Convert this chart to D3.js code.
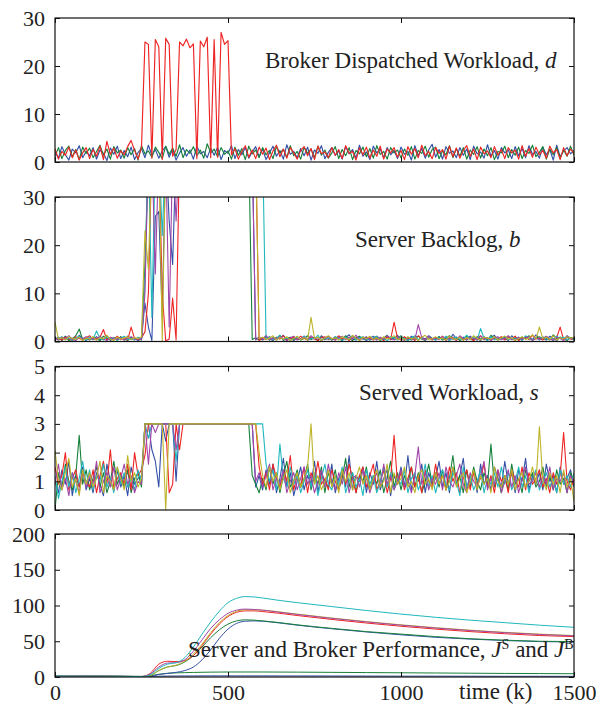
<!DOCTYPE html>
<html><head><meta charset="utf-8">
<script src="https://cdn.jsdelivr.net/npm/d3@7"></script>
<style>
html,body{margin:0;padding:0;background:#fff;}
svg{display:block;}
text{font-family:"Liberation Serif","Times New Roman",serif;fill:#222;}
</style></head>
<body><svg id="chart" width="599" height="704"></svg>
<script>
// ---------- DATA ----------
const kStep = d3.range(0, 1501, 10); // sample times k = 0,10,...,1500
const xTicks = [0, 500, 1000, 1500];
const yTicksD = [0, 10, 20, 30];
const yTicksB = [0, 10, 20, 30];
const yTicksS = [0, 1, 2, 3, 4, 5];
const yTicksJ = [0, 50, 100, 150, 200];

// Panel 1: broker dispatched workload d
const dBlue = [2.1,0.8,3.2,1.5,0.4,2.7,1.9,3.4,0.9,2.2, 1.3,3.0,0.6,2.5,1.8,0.3,2.9,1.6,3.3,0.7,
 2.4,1.1,3.1,0.5,2.0,2.8,0.9,3.5,1.4,2.6, 0.8,2.3,3.2,1.0,2.7,0.4,1.9,3.0,1.2,2.5,
 0.6,3.3,1.7,2.2,0.9,2.9,1.4,3.1,0.5,2.4, 1.8,3.4,0.7,2.6,1.5,3.0,0.8,2.1,3.2,1.1,
 2.7,0.5,1.9,3.3,1.2,2.4,0.6,3.6,1.6,2.2, 0.9,2.8,1.3,3.1,0.4,2.5,1.8,3.4,0.7,2.0,
 3.0,1.4,2.3,0.6,3.2,1.7,2.6,0.8,3.5,1.2, 2.1,0.5,3.3,1.9,2.7,0.9,3.0,1.5,2.4,0.7,
 3.1,1.6,2.2,0.4,3.4,1.3,2.8,0.8,2.5,3.7, 1.0,2.6,0.6,3.2,1.8,2.3,0.9,3.0,1.4,2.7,
 0.5,3.3,1.7,2.1,0.8,3.6,1.2,2.4,0.6,3.0, 1.9,2.5,0.7,3.2,1.3,2.8,0.9,3.4,1.6,2.2,
 0.8,3.1,1.5,2.6,0.4,3.5,1.1,2.3,3.0,1.7, 2.4];
const dGreen = [1.2,3.0,0.7,2.4,3.3,1.1,2.6,0.5,3.1,1.8, 2.9,0.9,2.2,3.5,1.4,2.7,0.6,3.2,1.9,2.5,
 0.8,3.0,1.5,2.8,0.4,3.4,1.7,2.3,1.0,3.1, 2.0,0.7,3.3,1.6,2.9,1.2,3.6,0.9,2.6,1.8,
 3.2,1.3,2.5,0.8,3.8,1.9,2.7,1.1,3.0,1.6, 2.3,0.6,3.1,1.4,2.8,0.5,3.3,1.7,2.5,0.9,
 3.0,1.5,2.4,0.7,3.2,1.9,2.6,1.0,3.4,1.3, 2.2,0.6,3.1,1.8,2.7,0.9,3.3,1.4,2.5,0.8,
 1.9,3.2,0.7,2.6,1.3,3.0,0.5,2.4,1.7,3.1, 1.1,2.8,0.8,3.4,1.6,2.2,0.6,3.0,1.9,2.5,
 0.9,2.7,1.4,3.2,0.6,2.4,1.8,3.3,1.0,2.6, 3.1,0.7,2.3,1.5,3.4,0.9,2.8,1.2,3.0,0.6,
 2.5,1.6,3.2,0.8,2.7,1.3,3.0,0.5,2.2,1.9, 3.3,0.9,2.6,1.4,3.1,0.7,2.4,1.8,3.5,1.1,
 2.0,3.2,0.6,2.7,1.5,3.0,0.9,2.5,1.2,3.3, 1.4];
const dRed = [2.8,0.6,2.2,1.4,3.1,0.9,2.5,0.4,1.9,3.0, 0.7,2.6,1.2,3.3,0.5,4.3,1.6,2.9,0.8,2.3,
 1.5,3.2,4.5,2.4,0.6, 3.0,25.0,24.5,0.8,25.5,
 24.0,0.5,25.8,24.5,1.2,2.6,25.0,24.2,25.6,23.8, 24.6,0.7,25.2,24.0,26.0,0.9,25.5,1.0,27.0,24.5,
 25.3,1.5,2.8,0.6,2.2,3.4,1.0,2.5,0.7,3.1,
 1.6,2.9,0.5,2.3,3.5,1.1,2.7,0.8,3.0,1.9, 0.6,2.4,3.2,1.3,2.8,0.5,3.3,1.7,2.1,0.9,
 3.0,1.4,2.6,0.7,3.4,1.8,2.2,0.4,2.9,1.5, 3.1,0.8,2.5,1.2,3.3,0.6,2.7,1.9,3.0,1.0,
 2.4,0.5,3.2,1.6,2.8,0.9,3.5,1.3,2.2,0.7, 3.0,1.8,2.6,0.6,3.3,1.1,2.9,0.8,2.4,3.4,
 1.2,2.7,0.5,3.1,1.7,2.3,0.9,3.2,1.4,2.6, 0.7,3.0,1.9,2.5,0.6,3.4,1.2,2.8,1.0,3.1,
 1.5,2.4,0.8,3.3,1.9,2.6,0.5,3.0,1.3,2.7, 1.8];

// Panel 2: server backlog b
const bBlue = [0.5,0.9,0.2,1.1,0.4,0.7,0.3,1.3,0.6,0.2, 0.8,0.4,1.0,0.3,0.6,1.2,0.2,0.7,0.5,0.9, 0.3,1.1,0.4,0.6,0.2,
 0.5,8,3,0.2,26,27,5,40,25,16,40,40,
 40,40,40,40,40,40,40,40,40,40,40,40,40,40,40,40,40,40,40,40,
 40,0.5,0.8,
 0.3,1.0,0.5,0.2,0.9,0.6,1.3,0.4,0.7,0.2, 0.8,0.5,1.1,0.3,0.6,0.9,0.2,1.2,0.4,0.7,
 0.3,1.0,0.6,0.2,0.8,1.4,0.5,0.3,0.9,0.6, 0.2,0.7,1.1,0.4,0.8,0.3,1.0,0.5,0.6,1.3,
 0.4,0.8,0.2,1.1,0.6,0.3,0.9,0.5,1.2,0.7, 0.3,1.0,0.5,0.8,0.2,1.5,0.6,0.4,0.9,0.3,
 1.1,0.5,0.7,0.2,1.0,0.4,0.8,1.3,0.3,0.6, 0.9,0.2,1.2,0.5,0.7,0.3,1.0,0.6,0.4,1.4,
 0.5,0.8,0.3,1.1,0.6,0.2,0.9,0.4,1.2,0.7, 0.5];
const bGreen = [0.8,0.3,0.6,1.0,0.2,0.5,1.2,2.6,0.4,0.7, 0.3,0.9,0.5,0.2,1.1,0.6,0.4,0.8,0.3,1.0, 0.5,0.2,0.9,0.4,0.7,
 0.3,16,40,40,40,40,40,40,40,40,40,40,
 40,40,40,40,40,40,40,40,40,40,40,40,40,40,40,40,40,40,40,40,
 0.4,0.8,0.3,
 0.6,1.1,0.3,0.8,0.5,1.3,0.2,0.7,0.9,0.4, 1.0,0.3,0.6,1.2,0.4,0.8,0.2,0.9,0.5,1.1,
 0.3,0.7,1.0,0.4,1.2,0.6,0.2,0.8,1.1,0.5, 0.9,0.3,0.6,1.0,0.2,0.7,1.3,0.4,0.8,0.5,
 1.2,0.4,0.7,0.3,0.9,1.1,0.5,0.2,0.8,0.6, 0.4,1.0,0.3,0.7,1.2,0.5,0.9,0.2,0.6,1.1,
 0.7,0.3,1.0,0.5,0.8,0.2,1.3,0.6,0.4,0.9, 0.5,1.1,0.4,0.8,0.3,0.9,0.6,1.2,0.2,0.7,
 1.0,0.4,0.7,0.3,1.4,0.6,0.9,0.5,0.2,0.8, 0.6];
const bRed = [0.4,0.7,0.3,0.9,0.5,0.2,1.0,0.6,0.3,0.8, 1.2,0.4,0.6,0.9,2.5,0.3,0.7,0.5,1.1,0.4, 0.8,0.3,3.0,0.6,0.4,
 0.8,2,10,40,40,40,10,0.1,0.5,9,0.3,40,
 40,40,40,40,40,40,40,40,40,40,40,40,40,40,40,40,40,40,40,40,
 40,40,0.2,
 0.7,0.4,1.0,0.3,0.8,0.5,1.2,0.2,0.6,0.9, 0.4,1.1,0.6,0.3,0.9,0.5,0.2,0.8,1.0,0.4,
 0.7,0.3,1.2,0.5,0.8,0.2,1.0,0.6,0.4,0.9, 0.5,0.8,0.3,1.1,0.6,0.2,0.9,0.4,4.0,0.7,
 0.3,1.0,0.5,0.7,0.2,1.2,0.6,0.4,0.9,0.3, 0.8,0.5,1.1,0.3,0.6,0.9,0.2,1.0,0.4,0.7,
 0.5,0.2,0.8,1.2,0.4,0.7,0.3,0.9,0.6,1.0, 0.3,0.8,0.5,1.1,0.2,0.6,0.9,0.4,1.3,0.5,
 0.7,0.3,1.0,0.6,0.2,0.8,3.0,0.4,0.9,0.5, 0.4];
const bCyan = [0.3,0.6,1.0,0.4,0.8,0.2,0.7,1.1,0.5,0.3, 0.9,0.4,2.2,0.6,0.3,1.0,0.5,0.8,0.2,0.7, 1.1,0.4,0.6,0.3,0.9,
 0.5,12,40,5,40,40,22,40,40,40,40,40,
 40,40,40,40,40,40,40,40,40,40,40,40,40,40,40,40,40,40,40,40,
 40,40,40,
 40,0.5,1.0,0.3,0.7,1.2,0.4,0.8,0.2,0.6, 0.9,0.4,1.1,0.3,0.7,0.5,1.3,0.2,0.8,0.6,
 0.4,1.0,0.6,0.2,0.9,0.5,1.2,0.3,0.7,1.0, 0.5,0.3,0.8,1.1,0.4,0.6,0.2,1.0,0.7,0.3,
 0.9,0.5,0.2,0.8,1.2,0.4,0.7,0.3,1.0,0.6, 0.3,0.8,0.5,1.1,0.2,0.7,0.9,0.4,0.6,1.3,
 0.5,0.9,0.3,2.7,0.6,0.2,1.0,0.4,0.8,0.5, 1.1,0.3,0.7,0.5,0.9,0.2,1.2,0.6,0.4,0.8,
 0.3,1.0,0.5,0.7,0.2,1.1,0.6,0.9,0.4,0.7, 0.3];
const bMagenta = [0.6,0.3,0.9,0.5,1.2,0.4,0.2,0.8,0.6,1.0, 0.4,0.7,0.3,1.1,0.5,0.2,0.9,0.6,0.4,0.8, 0.3,0.7,1.0,0.5,0.6,
 0.4,10,40,40,14,40,40,40,3,40,25,40,
 40,40,40,40,40,40,40,40,40,40,40,40,40,40,40,40,40,40,40,40,
 40,0.3,0.9,
 0.5,1.2,0.4,0.7,0.3,1.0,0.6,0.2,0.8,1.1, 0.3,0.6,0.9,0.4,1.2,0.5,0.8,0.2,0.7,1.0,
 0.6,0.3,0.8,1.1,0.4,0.9,0.5,1.3,0.2,0.7, 1.0,0.4,0.6,0.3,0.9,0.5,1.2,0.7,0.3,0.8,
 0.5,0.2,0.9,0.6,0.4,3.5,0.8,0.3,1.1,0.5, 0.7,0.4,1.0,0.2,0.8,0.5,0.3,1.2,0.6,0.4,
 0.9,0.6,0.3,1.1,0.5,0.8,0.2,0.7,1.0,0.4, 0.6,1.2,0.4,0.3,0.9,0.5,0.7,1.0,0.2,0.8,
 0.4,0.7,1.1,0.5,0.3,0.9,0.6,0.2,1.0,0.6, 0.8];
const bOlive = [4.0,0.5,0.8,0.3,1.0,0.6,0.4,0.9,0.2,0.7, 0.5,1.0,0.3,0.8,0.6,1.3,0.4,0.2,0.9,0.5, 0.7,1.0,0.4,0.8,0.6,
 1.0,23,15,40,40,40,0.2,40,40,40,40,40,
 40,40,40,40,40,40,40,40,40,40,40,40,40,40,40,40,40,40,40,40,
 40,40,0.6,
 0.9,0.4,0.7,1.2,0.3,0.8,0.5,1.0,0.2,0.6, 1.1,0.4,0.8,0.3,5.0,0.6,0.9,0.2,0.7,1.2,
 0.5,0.8,0.3,1.0,0.6,0.4,1.3,0.7,0.2,0.9, 0.6,1.1,0.4,0.7,0.3,1.0,0.5,0.8,1.2,0.4,
 0.7,0.3,1.0,0.5,0.8,0.2,0.9,1.3,0.4,0.6, 1.0,0.5,0.7,0.3,1.1,0.6,0.4,0.9,0.2,0.8,
 0.4,1.2,0.6,0.3,0.9,0.7,0.5,1.0,0.3,0.8, 1.1,0.5,0.8,0.2,0.6,1.0,0.4,0.7,1.4,0.5,
 3.0,0.6,0.9,0.4,1.2,0.3,0.8,0.5,1.0,0.7, 0.9];

// Panel 3: served workload s
const sBlue = [1.0,0.6,1.4,0.9,1.7,0.5,1.2,0.8,1.5,0.7, 1.1,0.6,1.3,0.9,0.5,1.6,1.0,0.7,1.4,0.8, 1.2,0.5,1.5,0.9,1.1,
 1.2,3,3,2.1,1.7,0.8,3,2.4,3,3,1.0,3,
 3,3,3,3,3,3,3,3,3,3,3,3,3,3,3,3,3,3,3,3,
 3,0.8,1.2,
 0.7,1.4,0.9,1.6,0.6,1.1,1.8,0.8,1.3,0.5, 1.0,1.5,0.7,1.2,0.9,1.7,0.6,1.3,1.0,0.8,
 1.6,0.6,1.1,1.4,0.8,1.9,0.7,1.2,1.0,1.5, 0.6,1.3,0.9,1.7,0.7,1.1,1.4,0.5,1.2,0.9,
 1.5,0.8,1.9,0.7,1.2,1.0,1.6,0.6,1.3,0.9, 1.1,1.7,0.8,1.3,0.6,1.5,0.9,1.2,1.8,0.7,
 1.0,1.4,0.6,1.6,0.9,1.2,0.7,1.5,1.1,0.8, 1.7,0.9,1.3,0.6,1.4,1.0,1.8,0.7,1.2,0.9,
 1.3,0.7,1.6,1.0,1.2,0.6,1.5,0.9,1.1,1.4, 0.8];
const sGreen = [0.0,1.3,0.8,1.6,1.0,0.7,1.2,2.6,0.9,1.4, 0.7,1.1,1.5,0.8,1.3,0.6,1.0,1.7,0.9,1.2, 0.8,1.4,0.6,1.1,1.3,
 0.8,3,3,3,3,3,3,3,3,3,3,3,
 3,3,3,3,3,3,3,3,3,3,3,3,3,3,3,3,3,3,3,3,
 1.2,0.9,0.6,
 1.1,0.7,1.5,0.9,1.3,0.6,1.2,1.7,0.8,1.0, 1.4,0.8,1.1,1.6,0.7,1.2,0.9,1.5,0.6,1.3,
 0.9,1.4,0.7,1.1,1.8,0.8,1.3,0.6,1.2,1.0, 1.5,0.7,1.2,0.9,1.4,0.6,1.1,1.7,0.8,1.3,
 0.7,1.2,0.9,1.5,0.8,1.3,0.6,1.0,1.6,0.9, 1.3,0.8,1.4,0.7,1.1,1.9,0.9,1.2,0.6,1.4,
 0.8,1.5,1.0,0.7,1.3,0.9,2.3,0.8,1.1,0.6, 1.2,0.7,1.6,0.9,1.1,0.6,1.4,1.0,1.3,0.8,
 1.0,1.5,0.8,1.2,0.7,1.4,0.9,1.1,0.6,1.3, 1.0];
const sRed = [1.5,0.9,1.2,2.0,0.7,1.1,1.4,0.8,1.3,1.0, 0.8,1.4,0.6,1.2,1.7,0.9,2.1,0.7,1.1,1.3, 0.9,1.6,0.7,2.0,1.2,
 1.4,1.9,3,3,3,3,3,3,0.6,0.9,3,2.1,
 3,3,3,3,3,3,3,3,3,3,3,3,3,3,3,3,3,3,3,3,
 3,3,1.5,
 0.9,1.3,0.7,1.6,1.1,0.8,1.4,1.0,1.9,0.7, 1.2,0.8,1.5,0.6,1.3,1.0,1.7,0.9,1.1,0.7,
 1.4,1.0,0.7,1.3,0.9,1.6,1.1,0.6,1.2,1.5, 0.8,1.2,1.6,0.7,1.0,1.4,0.6,1.1,2.6,0.9,
 1.3,0.7,1.1,1.5,0.8,1.2,0.6,1.4,1.0,0.8, 1.6,0.9,1.2,0.7,1.5,1.0,1.3,0.6,1.1,1.4,
 0.7,1.3,0.9,1.1,1.6,0.8,1.2,0.6,1.4,1.0, 1.2,0.6,1.4,1.0,0.8,1.5,0.7,1.3,0.9,1.1,
 1.4,0.8,1.1,0.6,1.3,0.9,1.2,2.7,1.0,0.7, 1.1];
const sCyan = [1.2,0.4,1.0,1.5,0.8,1.3,0.6,1.1,1.7,0.9, 1.4,0.7,1.2,1.0,1.6,0.8,1.1,0.6,1.5,0.9, 1.3,0.8,1.1,0.7,1.4,
 1.0,3,2.5,3,3,3,3,3,3,3,1.7,3,
 3,3,3,3,3,3,3,3,3,3,3,3,3,3,3,3,3,3,3,3,
 3,3,3,
 3,1.6,1.0,1.4,0.7,2.3,1.1,0.8,1.5,0.9, 1.2,0.6,1.0,1.4,0.8,1.3,0.5,1.1,1.6,0.9,
 0.7,1.2,0.9,1.5,0.6,1.0,1.3,0.8,1.1,0.5, 1.4,0.9,1.2,0.6,1.0,1.5,0.8,1.3,0.7,1.1,
 0.9,1.4,0.6,1.1,1.3,0.7,1.0,1.6,0.8,1.2, 0.6,1.1,1.4,0.9,0.7,1.3,1.0,0.5,1.5,0.8,
 1.2,0.7,1.0,1.4,0.6,1.1,0.9,1.3,0.8,1.5, 0.9,1.3,0.7,1.0,1.5,0.8,1.2,0.6,1.1,1.4,
 0.7,1.0,1.3,0.8,1.1,0.6,1.4,0.9,1.2,0.8, 1.3];
const sMagenta = [0.9,1.6,0.7,1.1,0.5,1.3,1.0,0.6,1.4,0.8, 1.2,0.9,1.7,0.6,1.0,1.3,0.8,1.5,0.7,1.1, 1.6,0.9,1.2,0.6,1.0,
 0.9,3,1.6,3,2.7,3,3,3,3,3,2.1,3,
 3,3,3,3,3,3,3,3,3,3,3,3,3,3,3,3,3,3,3,3,
 3,1.0,1.3,
 0.8,1.2,1.6,0.7,1.1,0.9,1.4,0.6,1.0,1.3, 0.7,1.1,1.5,0.9,1.2,0.6,1.0,1.4,0.8,1.6,
 1.0,0.7,1.3,0.9,1.5,0.6,1.1,1.2,0.8,1.4, 1.1,0.6,1.0,1.3,0.8,1.6,0.9,1.2,0.7,1.0,
 1.4,0.8,1.1,0.6,1.2,2.2,0.9,1.3,0.7,1.1, 0.9,1.3,0.7,1.5,1.0,0.8,1.2,1.6,0.9,0.6,
 1.3,1.0,0.8,1.2,1.7,0.7,1.1,0.9,1.4,0.6, 1.0,1.4,0.8,1.2,0.6,1.1,1.5,0.9,1.0,1.3,
 0.8,1.2,0.9,1.5,0.7,1.1,1.0,1.3,0.6,1.2, 0.9];
const sOlive = [2.1,1.0,0.7,1.3,1.8,0.8,1.1,0.5,1.4,0.9, 1.3,0.8,1.1,1.7,0.6,1.2,1.0,0.7,1.5,1.1, 0.7,1.9,1.0,1.3,0.8,
 1.1,3,3,3,3,3,3,0,3,3,3,3,
 3,3,3,3,3,3,3,3,3,3,3,3,3,3,3,3,3,3,3,3,
 3,3,2.0,
 1.2,0.8,1.5,1.0,1.3,0.7,1.1,1.4,0.6,1.0, 1.3,0.8,1.1,1.5,3.0,0.9,1.2,0.7,1.0,1.4,
 0.8,1.2,0.6,1.4,1.0,1.3,0.7,1.1,1.5,0.9, 1.2,0.7,1.1,1.4,0.8,1.0,1.6,0.6,1.3,0.9,
 1.1,1.5,0.8,1.0,0.6,1.2,1.4,0.9,1.1,0.7, 1.3,0.9,1.2,0.7,1.0,1.5,0.8,1.1,1.3,0.6,
 1.0,1.4,0.7,1.2,0.9,1.1,0.6,1.5,1.0,0.8, 1.2,0.9,1.4,0.7,1.1,1.3,0.8,1.0,1.5,0.9,
 2.9,1.0,0.7,1.3,0.9,1.2,0.6,1.4,0.8,1.1, 0.3];

// Panel 4: server and broker performance J
const jK = [0,50,100,150,200,250,275,300,325,350,375,400,425,450,475,500,525,550,575,600,650,700,800,900,1000,1100,1200,1300,1400,1500];
const jBlueLow  = [1.2,1.1,1.0,0.9,0.8,0.7,0.8,1.1,1.3,1.4,1.5,1.5,1.6,1.6,1.6,1.6,1.6,1.6,1.6,1.6,1.5,1.5,1.4,1.3,1.2,1.2,1.1,1.0,1.0,0.9];
const jGreenLow = [1.6,1.4,1.3,1.2,1.1,0.9,1.8,3.8,5.2,5.8,6.1,6.4,6.6,6.8,6.9,7.0,7.0,7.0,7.0,7.0,6.9,6.8,6.5,6.2,5.9,5.6,5.3,5.0,4.8,4.6];
const jBlue     = [1.5,1.3,1.1,1.0,0.8,0.6,1.0,3.5,5.0,6.5,9,14,24,38,54,67,75,78,78.5,78,75.5,72.5,67.5,63,59,55.5,53,51,49.5,49];
const jGreen    = [1.5,1.3,1.1,1.0,0.8,0.6,2,9,14,16,21,30,42,55,66,74,78.5,80,79.5,78.5,76,73,68,63.5,60,56.5,53.5,51.5,50,49.5];
const jRed      = [1.5,1.3,1.1,1.0,0.8,0.6,5,18,22,21.5,23,30,44,60,74,84.5,90.5,92.5,92.5,91.5,89,86,80.5,75.5,71,67,63.5,60.5,58,56.5];
const jOlive    = [1.5,1.3,1.1,1.0,0.8,0.6,2,9,14,16.5,22,32,46,62,76,86,92,94,94,93.5,91,88,82.5,77.5,73,69,65.5,62.5,60,58];
const jMagenta  = [1.5,1.3,1.1,1.0,0.8,0.6,4,14,19.5,20,24,36,52,68,80,89,93.5,95,94.5,93.5,90.5,87.5,82,77,72.5,68.5,65,62,59.5,57.5];
const jCyan     = [1.5,1.3,1.1,1.0,0.8,0.6,3,12,18,20,27,42,60,77,92,104,110,112.5,112,110.5,107,104,98.5,93,88,83.5,79.5,76,72.5,69.5];

// ---------- STYLE ----------
const C = {blue:"#3350a6", green:"#17803b", red:"#ee2424", cyan:"#21b8bd", magenta:"#a245a8", olive:"#bdb42a"};

const svg = d3.select("#chart");
const x = d3.scaleLinear().domain([0,1500]).range([55,574]);

const panels = [
  {id:"d", top:18, bottom:162, dom:[0,30], ticks:yTicksD, sw:1.15,
   series:[{c:C.blue,v:dBlue},{c:C.green,v:dGreen},{c:C.red,v:dRed}], kx:kStep, curve:d3.curveLinear},
  {id:"b", top:197, bottom:341.5, dom:[0,30], ticks:yTicksB, sw:1.1,
   series:[{c:C.blue,v:bBlue},{c:C.green,v:bGreen},{c:C.red,v:bRed},{c:C.cyan,v:bCyan},{c:C.magenta,v:bMagenta},{c:C.olive,v:bOlive}], kx:kStep, curve:d3.curveLinear},
  {id:"s", top:366.5, bottom:510, dom:[0,5], ticks:yTicksS, sw:1.1,
   series:[{c:C.blue,v:sBlue},{c:C.green,v:sGreen},{c:C.red,v:sRed},{c:C.cyan,v:sCyan},{c:C.magenta,v:sMagenta},{c:C.olive,v:sOlive}], kx:kStep, curve:d3.curveLinear},
  {id:"J", top:534, bottom:677, dom:[0,200], ticks:yTicksJ, sw:1,
   series:[{c:C.blue,v:jBlueLow},{c:C.green,v:jGreenLow},{c:C.blue,v:jBlue},{c:C.green,v:jGreen},{c:C.red,v:jRed},{c:C.olive,v:jOlive},{c:C.magenta,v:jMagenta},{c:C.cyan,v:jCyan}], kx:jK, curve:d3.curveMonotoneX}
];

const FS_TICK = 22, FS_TITLE = 23;
panels.forEach((p, pi) => {
  const y = d3.scaleLinear().domain(p.dom).range([p.bottom, p.top]);
  const g = svg.append("g");
  const cid = "clip-" + p.id;
  svg.append("defs").append("clipPath").attr("id", cid)
    .append("rect").attr("x", x(0)).attr("y", p.top).attr("width", x(1500)-x(0)).attr("height", p.bottom - p.top);
  const lines = g.append("g").attr("clip-path", `url(#${cid})`);
  const line = d3.line().x((d,i) => x(p.kx[i])).y(d => y(d)).curve(p.curve);
  p.series.forEach(s => {
    lines.append("path").attr("d", line(s.v)).attr("fill","none")
      .attr("stroke", s.c).attr("stroke-width", p.sw).attr("stroke-linejoin","round");
  });
  g.append("rect").attr("x", x(0)).attr("y", p.top).attr("width", x(1500)-x(0)).attr("height", p.bottom-p.top)
    .attr("fill","none").attr("stroke","#111").attr("stroke-width",1.2);
  const left = g.append("g").attr("transform",`translate(${x(0)},0)`)
    .call(d3.axisLeft(y).tickValues(p.ticks).tickSizeInner(-5).tickSizeOuter(0).tickPadding(10).tickFormat(d3.format("d")));
  const right = g.append("g").attr("transform",`translate(${x(1500)},0)`)
    .call(d3.axisRight(y).tickValues(p.ticks).tickSizeInner(-5).tickSizeOuter(0).tickFormat(""));
  const top = g.append("g").attr("transform",`translate(0,${p.top})`)
    .call(d3.axisTop(x).tickValues(xTicks).tickSizeInner(-5).tickSizeOuter(0).tickFormat(""));
  const bottom = g.append("g").attr("transform",`translate(0,${p.bottom})`)
    .call(d3.axisBottom(x).tickValues(xTicks).tickSizeInner(-5).tickSizeOuter(0).tickPadding(7)
      .tickFormat(pi === 3 ? d3.format("d") : ""));
  [left,right,top,bottom].forEach(a => {
    a.select(".domain").remove();
    a.selectAll("line").attr("stroke","#111");
    a.selectAll("text").attr("font-size", FS_TICK).attr("font-family",'"Liberation Serif",serif').attr("fill","#222");
  });
});

function title(xp, yp, parts){
  const t = svg.append("text").attr("x", xp).attr("y", yp).attr("font-size", FS_TITLE);
  parts.forEach(pt => {
    const ts = t.append("tspan").text(pt.t);
    if (pt.i) ts.attr("font-style","italic");
    if (pt.sup) ts.attr("font-size", 14);
    if (pt.dy) ts.attr("dy", pt.dy);
  });
  return t;
}
title(265, 68, [{t:"Broker Dispatched Workload, "},{t:"d", i:true}]);
title(355, 247, [{t:"Server Backlog, "},{t:"b", i:true}]);
title(359, 400, [{t:"Served Workload, "},{t:"s", i:true}]);
title(188, 657, [{t:"Server and Broker Performance, "},{t:"J", i:true},{t:"S", sup:true, dy:-8},{t:" and ", dy:8},{t:"J", i:true},{t:"B", sup:true, dy:-8}]);
svg.append("text").attr("x", 459).attr("y", 699).attr("font-size", FS_TITLE).text("time (k)");
</script>
</body></html>
